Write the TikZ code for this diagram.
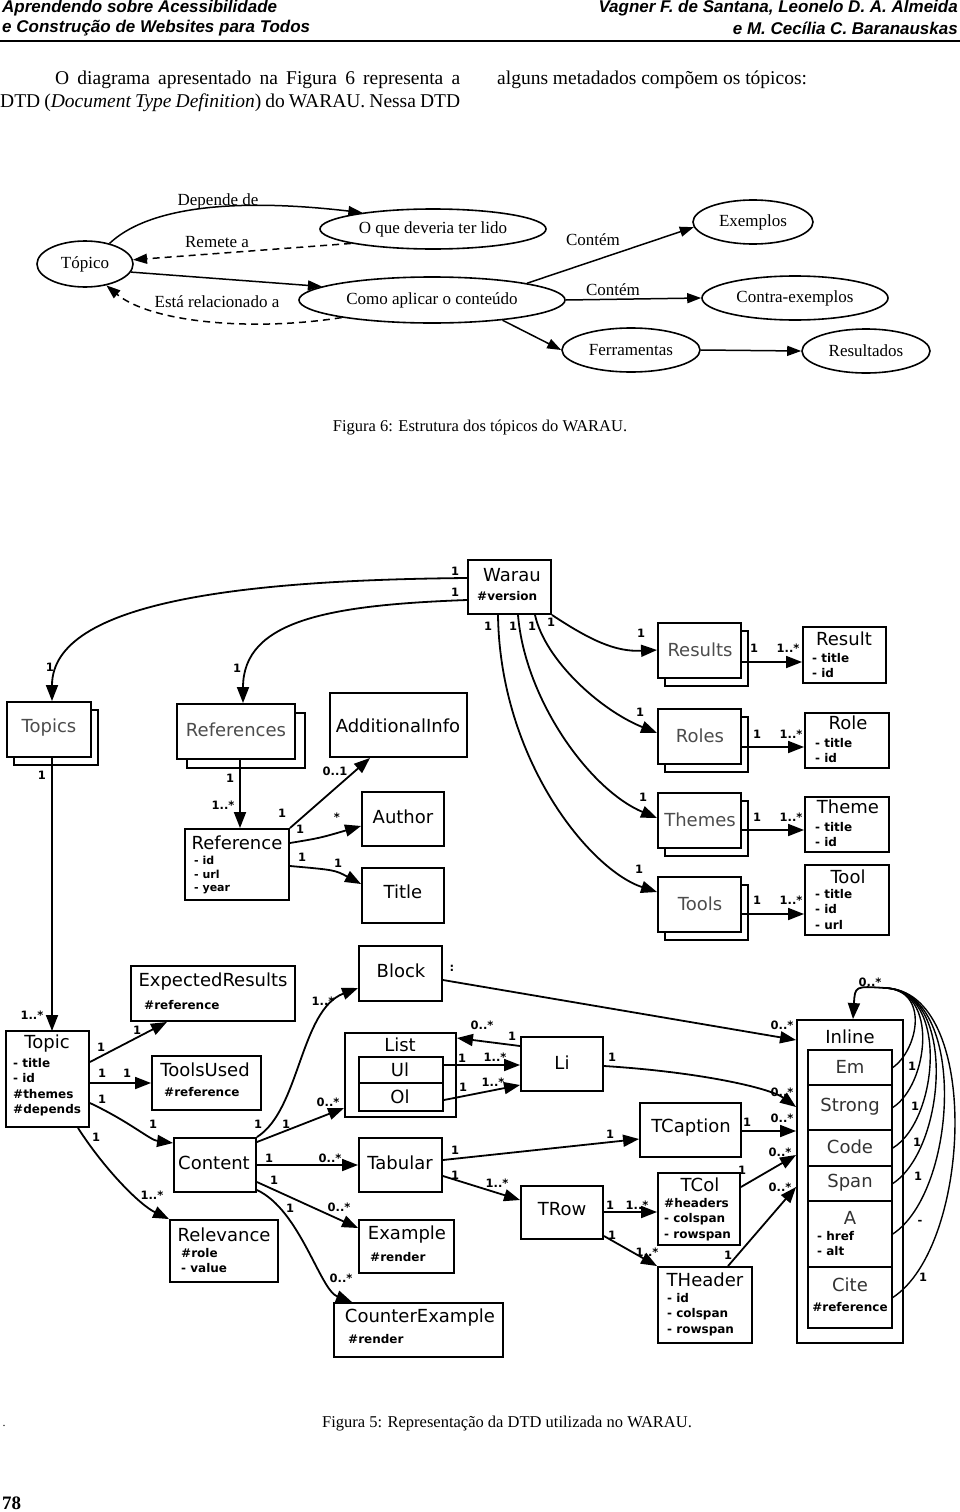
\documentclass[tikz,border=0pt]{standalone}
\usepackage{fontspec}
\setmainfont{Liberation Serif}
\newfontfamily\headfont{Liberation Sans}
\newfontfamily\umlfont{DejaVu Sans}
\usetikzlibrary{arrows.meta,shapes.geometric,fit}

\tikzset{
  oval/.style={draw, ellipse, line width=1.6pt, inner sep=0pt, font=\fontsize{17}{17}\selectfont},
  rel/.style={line width=1.5pt, -{Triangle[length=14pt,width=10pt]}},
  umlbox/.style={draw, line width=1.9pt, inner sep=0pt, fill=white},
  link/.style={line width=1.8pt, -{Triangle[length=16pt,width=12pt]}},
  boxname/.style={font=\umlfont\fontsize{18}{18}\selectfont, inner sep=0pt},
  attr/.style={font=\umlfont\bfseries\fontsize{12}{15.5}\selectfont, inner sep=0pt, align=left, anchor=north west},
  mult/.style={font=\umlfont\bfseries\fontsize{11.5}{11.5}\selectfont, inner sep=0pt}
}

\begin{document}
\begin{tikzpicture}[x=1pt, y=-1pt]
  \useasboundingbox (0,0) rectangle (960,1512);

  \node[font=\headfont\bfseries\itshape\fontsize{17}{17}\selectfont, anchor=west, inner sep=0pt] (book1) at (2,8) {Aprendendo sobre Acessibilidade};
  \node[font=\headfont\bfseries\itshape\fontsize{17}{17}\selectfont, anchor=west, inner sep=0pt] (book2) at (2,28) {e Construção de Websites para Todos};
  \node[font=\headfont\bfseries\itshape\fontsize{17}{17}\selectfont, anchor=east, inner sep=0pt] (auth1) at (958,8) {Vagner F. de Santana, Leonelo D. A. Almeida};
  \node[font=\headfont\bfseries\itshape\fontsize{17}{17}\selectfont, anchor=east, inner sep=0pt] (auth2) at (958,28) {e M. Cecília C. Baranauskas};
  \draw[line width=2.5pt] (0,41) -- (960,41);

  \node[font=\fontsize{19.5}{20}\selectfont, anchor=west, inner sep=0pt] (par1) at (55,80) {\makebox[405pt][s]{O diagrama apresentado na Figura 6 representa a}};
  \node[font=\fontsize{19.5}{20}\selectfont, anchor=west, inner sep=0pt] (par2) at (0,103) {\makebox[460pt][s]{DTD (\textit{Document Type Definition}) do WARAU. Nessa DTD}};
  \node[font=\fontsize{19.5}{20}\selectfont, anchor=west, inner sep=0pt] (par3) at (497,80) {alguns metadados compõem os tópicos:};

  \node[oval, minimum width=96pt, minimum height=46pt] (topico) at (85,264) {Tópico};
  \node[oval, minimum width=226pt, minimum height=40pt] (quedeveria) at (433,229) {O que deveria ter lido};
  \node[oval, minimum width=266pt, minimum height=46pt] (comoaplicar) at (432,300) {Como aplicar o conteúdo};
  \node[oval, minimum width=120pt, minimum height=44pt] (exemplos) at (753,222) {Exemplos};
  \node[oval, minimum width=186pt, minimum height=44pt] (contra) at (795,298) {Contra-exemplos};
  \node[oval, minimum width=138pt, minimum height=44pt] (ferramentas) at (631,350) {Ferramentas};
  \node[oval, minimum width=128pt, minimum height=44pt] (resultados) at (866,351) {Resultados};

  \draw[rel] (topico.40) .. controls (160,196) and (280,203) .. (quedeveria.167);
  \draw[rel, dash pattern=on 7pt off 5pt] (quedeveria.190) -- (topico.5);
  \draw[rel] (topico.-10) -- (comoaplicar.173);
  \draw[rel, dash pattern=on 7pt off 5pt] (comoaplicar.191) .. controls (250,332) and (150,322) .. (topico.-45);
  \draw[rel] (comoaplicar.10) -- (exemplos.185);
  \draw[rel] (comoaplicar.east) -- (contra.west);
  \draw[rel] (comoaplicar.-16) -- (ferramentas.west);
  \draw[rel] (ferramentas.east) -- (resultados.west);

  \node[font=\fontsize{17}{17}\selectfont] (lbdep) at (218,201) {Depende de};
  \node[font=\fontsize{17}{17}\selectfont] (lbrem) at (217,242) {Remete a};
  \node[font=\fontsize{17}{17}\selectfont] (lbest) at (217,302) {Está relacionado a};
  \node[font=\fontsize{17}{17}\selectfont] (lbcont1) at (593,240) {Contém};
  \node[font=\fontsize{17}{17}\selectfont] (lbcont2) at (613,290) {Contém};

  \node[font=\fontsize{16.5}{17}\selectfont] (cap6) at (480,428) {Figura 6: Estrutura dos tópicos do WARAU.};

  \node[umlbox, fit={(468,560) (551,614)}] (warau) {};
  \node[boxname] (warauname) at (512,575) {Warau};
  \node[attr] (warauattr) at (477,591) {\#version};

  \node[umlbox, fit={(14,710) (98,765)}] (topics-b) {};
  \node[umlbox, fit={(7,702) (91,757)}] (topics) {};
  \node[boxname, text=black!70] (topicsname) at (49,728) {Topics};
  \node[umlbox, fit={(187,713) (305,768)}] (references-b) {};
  \node[umlbox, fit={(177,704) (295,759)}] (references) {};
  \node[boxname, text=black!70] (referencesname) at (236,730) {References};

  \node[umlbox, fit={(330,693) (467,757)}] (additional) {};
  \node[boxname] (additionalname) at (398,726) {AdditionalInfo};
  \node[umlbox, fit={(362,792) (444,846)}] (author) {};
  \node[boxname] (authorname) at (403,817) {Author};
  \node[umlbox, fit={(362,868) (444,923)}] (title) {};
  \node[boxname] (titlename) at (403,892) {Title};
  \node[umlbox, fit={(185,829) (289,900)}] (reference) {};
  \node[boxname] (referencename) at (237,843) {Reference};
  \node[attr, font=\umlfont\bfseries\fontsize{11}{13.5}\selectfont] (referenceattr) at (194,856) {- id\\- url\\- year};

  \foreach \nm/\txt/\y in {results/Results/623, roles/Roles/709, themes/Themes/793, tools/Tools/877} {
    \node[umlbox, fit={(665,\y+8) (748,\y+63)}] (\nm-b) {};
    \node[umlbox, fit={(658,\y) (741,\y+55)}] (\nm) {};
    \node[boxname, text=black!70] (\nm name) at (700,\y+27) {\txt};
  }

  \node[umlbox, fit={(803,627) (886,683)}] (result) {};
  \node[boxname] (resultname) at (844,639) {Result};
  \node[attr] (resultattr) at (812,653) {- title\\- id};
  \node[umlbox, fit={(805,713) (889,768)}] (role) {};
  \node[boxname] (rolename) at (848,723) {Role};
  \node[attr] (roleattr) at (815,738) {- title\\- id};
  \node[umlbox, fit={(805,797) (889,852)}] (theme) {};
  \node[boxname] (themename) at (848,807) {Theme};
  \node[attr] (themeattr) at (815,822) {- title\\- id};
  \node[umlbox, fit={(805,865) (889,935)}] (tool) {};
  \node[boxname] (toolname) at (848,877) {Tool};
  \node[attr] (toolattr) at (815,889) {- title\\- id\\- url};

  \draw[link] (warau.west |- 0,578) .. controls (250,580) and (52,600) .. (topics.north -| 52,0);
  \draw[link] (warau.west |- 0,600) .. controls (330,605) and (243,620) .. (references.north -| 243,0);
  \draw[link] (topics.south -| 52,0) -- (1 *52,1031);
  \draw[link] (references.south -| 240,0) -- (reference.north -| 240,0);
  \draw[link] (reference.north east) -- (additional.south -| 370,0);
  \draw[link] (reference.east |- 0,843) .. controls (320,838) .. (author.west |- 0,826);
  \draw[link] (reference.east |- 0,866) .. controls (335,870) .. (title.west |- 0,884);

  \draw[link] (warau.south east) .. controls (590,640) and (615,652) .. (results.west |- 0,650);
  \draw[link] (warau.south -| 535,0) .. controls (545,660) and (600,710) .. (roles.west |- 0,733);
  \draw[link] (warau.south -| 518,0) .. controls (525,700) and (590,790) .. (themes.west |- 0,818);
  \draw[link] (warau.south -| 498,0) .. controls (500,760) and (590,870) .. (tools.west |- 0,892);
  \foreach \src/\dst/\y in {results/result/662, roles/role/747, themes/theme/830, tools/tool/914}
    \draw[link] (\src.east |- 0,\y) -- (\dst.west |- 0,\y);

  \node[umlbox, fit={(6,1031) (89,1127)}] (topic) {};
  \node[boxname] (topicname) at (47,1044) {Topic};
  \node[attr] (topicattr) at (13,1058) {- title\\- id\\\#themes\\\#depends};
  \node[umlbox, fit={(131,966) (295,1021)}] (expected) {};
  \node[boxname] (expectedname) at (213,982) {ExpectedResults};
  \node[attr] (expectedattr) at (144,1000) {\#reference};
  \node[umlbox, fit={(152,1056) (261,1110)}] (toolsused) {};
  \node[boxname] (toolsusedname) at (205,1070) {ToolsUsed};
  \node[attr] (toolsusedattr) at (164,1087) {\#reference};
  \node[umlbox, fit={(174,1138) (256,1192)}] (content) {};
  \node[boxname] (contentname) at (214,1163) {Content};
  \node[umlbox, fit={(170,1220) (278,1282)}] (relevance) {};
  \node[boxname] (relevancename) at (224,1235) {Relevance};
  \node[attr] (relevanceattr) at (181,1248) {\#role\\- value};

  \node[umlbox, fit={(359,946) (442,1001)}] (block) {};
  \node[boxname] (blockname) at (401,971) {Block};
  \node[umlbox, fit={(345,1033) (456,1117)}] (list) {};
  \node[boxname] (listname) at (400,1045) {List};
  \node[umlbox, fit={(359,1057) (443,1083)}] (ul) {};
  \node[boxname] (ulname) at (400,1070) {Ul};
  \node[umlbox, fit={(359,1083) (443,1111)}] (ol) {};
  \node[boxname] (olname) at (400,1097) {Ol};
  \node[umlbox, fit={(359,1138) (442,1192)}] (tabular) {};
  \node[boxname] (tabularname) at (400,1163) {Tabular};
  \node[umlbox, fit={(359,1220) (454,1273)}] (example) {};
  \node[boxname] (examplename) at (407,1235) {Example};
  \node[attr] (exampleattr) at (370,1252) {\#render};
  \node[umlbox, fit={(334,1303) (503,1357)}] (counterex) {};
  \node[boxname] (counterexname) at (420,1318) {CounterExample};
  \node[attr] (counterexattr) at (348,1334) {\#render};

  \node[umlbox, fit={(521,1037) (603,1091)}] (li) {};
  \node[boxname] (liname) at (562,1063) {Li};
  \node[umlbox, fit={(640,1103) (741,1157)}] (tcaption) {};
  \node[boxname] (tcaptionname) at (691,1128) {TCaption};
  \node[umlbox, fit={(521,1186) (603,1239)}] (trow) {};
  \node[boxname] (trowname) at (562,1209) {TRow};
  \node[umlbox, fit={(658,1173) (740,1245)}] (tcol) {};
  \node[boxname] (tcolname) at (700,1185) {TCol};
  \node[attr] (tcolattr) at (664,1198) {\#headers\\- colspan\\- rowspan};
  \node[umlbox, fit={(658,1267) (752,1343)}] (theader) {};
  \node[boxname] (theadername) at (705,1280) {THeader};
  \node[attr] (theaderattr) at (667,1293) {- id\\- colspan\\- rowspan};

  \node[umlbox, fit={(797,1020) (903,1343)}] (inline) {};
  \node[boxname] (inlinename) at (850,1037) {Inline};
  \foreach \nm/\txt/\ya/\yb/\yt in {em/Em/1050/1085/1067, strong/Strong/1085/1130/1107, code/Code/1130/1166/1147, span/Span/1166/1201/1183, ahref/A/1201/1267/1218, cite/Cite/1267/1328/1285} {
    \node[umlbox, line width=1.5pt, fit={(808,\ya) (892,\yb)}] (\nm) {};
    \node[boxname, text=black!80] (\nm name) at (850,\yt) {\txt};
  }
  \node[attr] (ahrefattr) at (817,1231) {- href\\- alt};
  \node[attr, anchor=center] (citeattr) at (850,1307) {\#reference};

  \draw[link] (topic.east |- 0,1062) -- (expected.south -| 167,0);
  \draw[link] (topic.east |- 0,1083) -- (toolsused.west |- 0,1083);
  \draw[link] (topic.east |- 0,1103) .. controls (130,1122) and (150,1140) .. (content.west |- 0,1143);
  \draw[link] (topic.south -| 78,0) .. controls (105,1170) and (140,1205) .. (relevance.north west);
  \draw[link] (content.north east) .. controls (300,1110) and (300,1010) .. (block.west |- 0,988);
  \draw[link] (content.east |- 0,1142) -- (list.west |- 0,1108);
  \draw[link] (content.east |- 0,1165) -- (tabular.west |- 0,1165);
  \draw[link] (content.east |- 0,1182) -- (example.west |- 0,1228);
  \draw[link] (content.east |- 0,1190) .. controls (300,1210) and (320,1290) .. (counterex.north -| 352,0);

  \draw[link] (block.east |- 0,980) -- (inline.west |- 0,1040);
  \draw[link] (li.west |- 0,1046) -- (list.east |- 0,1038);
  \draw[link] (ul.east |- 0,1065) -- (li.west |- 0,1065);
  \draw[link] (ol.east |- 0,1100) -- (li.west |- 0,1085);
  \draw[link] (li.east |- 0,1066) .. controls (700,1072) and (770,1088) .. (inline.west |- 0,1107);
  \draw[link] (tabular.east |- 0,1160) -- (tcaption.west |- 0,1139);
  \draw[link] (tcaption.east |- 0,1131) -- (inline.west |- 0,1131);
  \draw[link] (tabular.east |- 0,1176) -- (trow.west |- 0,1200);
  \draw[link] (trow.east |- 0,1212) -- (tcol.west |- 0,1212);
  \draw[link] (trow.east |- 0,1236) -- (theader.north west);
  \draw[link] (tcol.east |- 0,1187) -- (inline.west |- 0,1155);
  \draw[link] (theader.north -| 728,0) -- (inline.west |- 0,1187);

  \coordinate (looptop) at (885,988);
  \foreach \nm/\ax/\ay/\bx in {em/918/1050/930, strong/928/1085/940, code/938/1121/950, span/946/1149/958, ahref/958/1191/968, cite/972/1246/982}
    \draw[line width=1.4pt] (\nm.east) .. controls (\ax,\ay) and (\bx,990) .. (looptop);
  \draw[link] (looptop) .. controls (855,986) .. (inline.north -| 853,0);

  \foreach \x/\y/\t [count=\i] in {455/571/1, 455/592/1, 50/667/1, 237/668/1, 42/775/1, 230/778/1, 223/805/1..*, 282/813/1, 335/771/0..1, 300/829/1, 337/817/*, 302/857/1, 338/863/1, 488/626/1, 513/626/1, 532/626/1, 551/622/1, 641/633/1, 754/648/1, 788/648/1..*, 640/712/1, 757/734/1, 791/734/1..*, 643/797/1, 757/817/1, 791/817/1..*, 639/869/1, 757/900/1, 791/900/1..*}
    \node[mult] (mu\i) at (\x,\y) {\t};
  \foreach \x/\y/\t [count=\i] in {32/1015/1..*, 101/1047/1, 137/1030/1, 102/1073/1, 127/1073/1, 102/1099/1, 153/1124/1, 96/1137/1, 152/1195/1..*, 258/1124/1, 323/1001/1..*, 286/1124/1, 328/1102/0..*, 269/1158/1, 330/1158/0..*, 274/1180/1, 339/1207/0..*, 290/1208/1, 341/1278/0..*, 452/968/:, 782/1025/0..*, 482/1025/0..*, 512/1036/1, 462/1058/1, 495/1057/1..*, 463/1087/1, 493/1082/1..*, 612/1057/1, 782/1092/0..*, 455/1150/1, 610/1134/1, 747/1122/1, 782/1118/0..*, 455/1175/1, 497/1183/1..*, 610/1205/1, 637/1205/1..*, 612/1235/1, 647/1252/1..*, 742/1170/1, 780/1152/0..*, 728/1255/1, 780/1187/0..*, 870/982/0..*, 912/1066/1, 915/1106/1, 917/1142/1, 918/1176/1, 920/1222/-, 923/1277/1}
    \node[mult] (ml\i) at (\x,\y) {\t};

  \node[font=\fontsize{16.5}{17}\selectfont] (cap5) at (507,1424) {Figura 5: Representação da DTD utilizada no WARAU.};
  \node[font=\fontsize{12}{12}\selectfont, inner sep=0pt] (dot) at (4,1426) {.};
  \node[font=\bfseries\fontsize{19}{19}\selectfont, anchor=south west, inner sep=0pt] (pagenum) at (2,1510) {78};
\end{tikzpicture}
\end{document}
